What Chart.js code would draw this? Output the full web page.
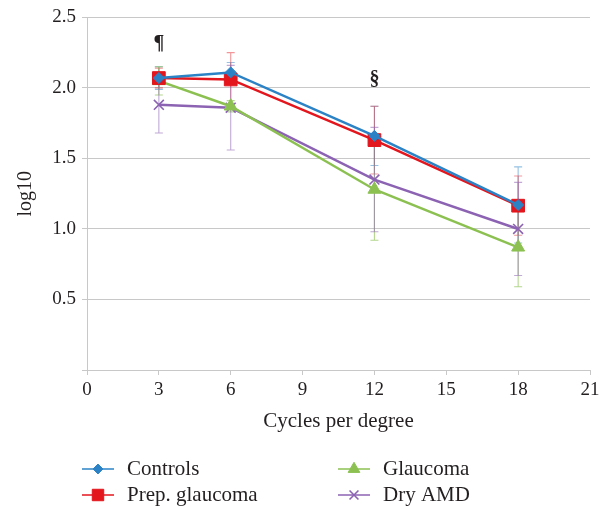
<!DOCTYPE html>
<html>
<head>
<meta charset="utf-8">
<script src="https://cdn.jsdelivr.net/npm/chart.js@4/dist/chart.umd.min.js"></script>
<style>
  html, body { margin: 0; padding: 0; background: #fff; }
  #wrap { width: 608px; height: 509px; position: relative; }
</style>
</head>
<body>
<div id="wrap"><canvas id="c" width="608" height="509"></canvas></div>
<script>
// ---- data ----
const cycles = [3, 6, 12, 18];
const seriesNames = ['Controls', 'Prep. glaucoma', 'Glaucoma', 'Dry AMD'];
const controls = [2.07, 2.11, 1.66, 1.17];
const prepGlaucoma = [2.07, 2.06, 1.63, 1.165];
const glaucoma = [2.05, 1.87, 1.28, 0.87];
const dryAMD = [1.88, 1.86, 1.35, 1.00];
const controlsSD = [0.08, 0.07, 0.21, 0.27];
const prepGlaucomaSD = [0.07, 0.19, 0.24, 0.21];
const glaucomaSD = [0.10, 0.04, 0.36, 0.28];
const dryAMDSD = [0.20, 0.30, 0.37, 0.33];
const xTicks = [0, 3, 6, 9, 12, 15, 18, 21];
const yTicks = [0, 0.5, 1.0, 1.5, 2.0, 2.5];
const marks = [{ x: 3, y: 2.31, text: '¶' }, { x: 12, y: 2.06, text: '§' }];

const colors = ['#2b83c6', '#e3161d', '#8cc152', '#8c63b3'];
const errColors = ['rgba(43,131,198,0.5)', 'rgba(227,22,29,0.45)', 'rgba(140,193,82,0.65)', 'rgba(140,99,179,0.55)'];
const styles = ['rectRot', 'rect', 'triangle', 'crossRot'];
const radii = [5.5, 9, 7.5, 7];
const values = [controls, prepGlaucoma, glaucoma, dryAMD];
const sds = [controlsSD, prepGlaucomaSD, glaucomaSD, dryAMDSD];
const FONT = "'Liberation Serif', 'DejaVu Serif', serif";
const TXT = '#231f20';

const datasets = values.map((vals, i) => ({
  label: seriesNames[i],
  data: cycles.map((c, j) => ({ x: c, y: vals[j] })),
  sd: sds[i],
  borderColor: colors[i],
  backgroundColor: colors[i],
  pointBackgroundColor: colors[i],
  pointBorderColor: colors[i],
  pointStyle: styles[i],
  pointRadius: radii[i],
  pointBorderWidth: styles[i] === 'crossRot' ? 1.6 : 1,
  borderWidth: 2.5,
  tension: 0,
  errColor: errColors[i]
}));

const errorBars = {
  id: 'errorBars',
  beforeDatasetsDraw(chart) {
    const { ctx, scales: { x, y } } = chart;
    ctx.save();
    chart.data.datasets.forEach(ds => {
      ctx.strokeStyle = ds.errColor;
      ctx.lineWidth = 1.1;
      ds.data.forEach((p, j) => {
        const px = x.getPixelForValue(p.x);
        const top = y.getPixelForValue(p.y + ds.sd[j]);
        const bot = y.getPixelForValue(p.y - ds.sd[j]);
        ctx.beginPath();
        ctx.moveTo(px, top); ctx.lineTo(px, bot);
        ctx.moveTo(px - 4, top); ctx.lineTo(px + 4, top);
        ctx.moveTo(px - 4, bot); ctx.lineTo(px + 4, bot);
        ctx.stroke();
      });
    });
    ctx.restore();
  },
  afterDatasetsDraw(chart) {
    const { ctx, scales: { x, y } } = chart;
    ctx.save();
    ctx.fillStyle = TXT;
    ctx.font = "bold 20px " + FONT;
    ctx.textAlign = 'center';
    ctx.textBaseline = 'middle';
    marks.forEach(m => ctx.fillText(m.text, x.getPixelForValue(m.x), y.getPixelForValue(m.y)));
    ctx.restore();
  },
  afterDraw(chart) {
    // two-column legend
    const { ctx } = chart;
    ctx.save();
    const cols = [82, 338];
    const rows = [469, 495];
    chart.data.datasets.forEach((ds, i) => {
      const col = i < 2 ? 0 : 1;
      const row = i % 2;
      const lx = cols[col], ly = rows[row];
      ctx.strokeStyle = ds.borderColor;
      ctx.lineWidth = 1.5;
      ctx.beginPath(); ctx.moveTo(lx, ly); ctx.lineTo(lx + 32, ly); ctx.stroke();
      ctx.fillStyle = ds.backgroundColor;
      ctx.lineWidth = ds.pointBorderWidth;
      Chart.helpers.drawPoint(ctx, { pointStyle: ds.pointStyle, radius: ds.pointRadius * 0.9, borderWidth: ds.pointBorderWidth }, lx + 16, ly);
      ctx.fillStyle = TXT;
      ctx.font = "21px " + FONT;
      ctx.textAlign = 'left';
      ctx.textBaseline = 'middle';
      ctx.fillText(ds.label, lx + 45, ly);
    });
    ctx.restore();
  }
};

new Chart(document.getElementById('c'), {
  type: 'line',
  data: { datasets },
  plugins: [errorBars],
  options: {
    responsive: false,
    animation: false,
    devicePixelRatio: 1,
    layout: { padding: { top: 16, right: 18, bottom: 69, left: 0 } },
    plugins: { legend: { display: false }, tooltip: { enabled: false } },
    scales: {
      x: {
        type: 'linear', min: 0, max: 21,
        afterBuildTicks: s => { s.ticks = xTicks.map(v => ({ value: v })); },
        afterFit: s => { s.height = 70; },
        grid: { drawOnChartArea: false, drawTicks: true, tickLength: 5, color: '#c8c8c8' },
        border: { color: '#c8c8c8', width: 1 },
        ticks: { color: TXT, font: { family: FONT, size: 19 }, padding: 4, maxRotation: 0 },
        title: { display: true, text: 'Cycles per degree', color: TXT, font: { family: FONT, size: 21 }, padding: { top: 0, bottom: 6 } }
      },
      y: {
        min: 0, max: 2.5,
        afterBuildTicks: s => { s.ticks = yTicks.map(v => ({ value: v })); },
        afterFit: s => { s.width = 87; },
        grid: { color: '#c8c8c8', drawTicks: true, tickLength: 5 },
        border: { color: '#c8c8c8', width: 1 },
        ticks: { color: TXT, font: { family: FONT, size: 19 }, padding: 6,
          callback: v => v === 0 ? '' : v.toFixed(1) },
        title: { display: true, text: 'log10', color: TXT, font: { family: FONT, size: 20 }, padding: { top: 14, bottom: 0 } }
      }
    }
  }
});
</script>
</body>
</html>
